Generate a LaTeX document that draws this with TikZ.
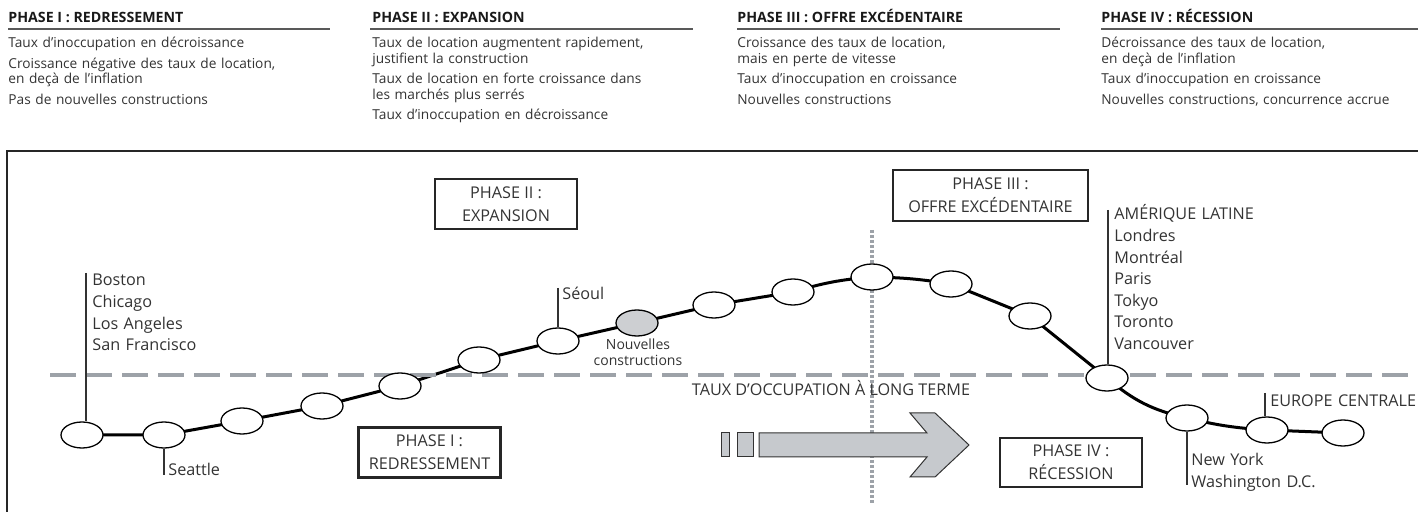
\documentclass[tikz,border=0pt]{standalone}
\usepackage{fontspec}
\setmainfont{Open Sans}
\usetikzlibrary{shapes.geometric,backgrounds}

\definecolor{ink}{HTML}{333333}
\definecolor{dashgray}{HTML}{9DA2A8}
\definecolor{arrowgray}{HTML}{C6C9CD}
\definecolor{newgray}{HTML}{CDCFD2}

\begin{document}
\begin{tikzpicture}[x=0.5pt, y=-0.5pt,
    stop/.style = {draw, ellipse, line width=0.65pt, fill=white, minimum width=21pt, minimum height=13pt, inner sep=0pt},
    newstop/.style = {stop, fill=newgray},
    track/.style = {line width=1.5pt},
    leader/.style = {draw=ink, line width=0.6pt},
    city/.style = {anchor=base west, inner sep=0pt, text width=110pt, align=left, text=ink, font=\fontsize{8.1}{10.8}\selectfont},
    phasebox/.style = {draw=black!85, line width=1.3pt, align=center, text=ink, font=\fontsize{8.1}{11.5}\selectfont, inner sep=0pt},
    colhead/.style = {anchor=base west, inner sep=0pt, font=\bfseries\fontsize{7.1}{8}\selectfont, text=black!90},
    colbody/.style = {anchor=base west, inner sep=0pt, text width=170pt, align=left, font=\fontsize{6.85}{7.75}\selectfont, text=ink},
    colrule/.style = {draw=black!65, line width=0.6pt}]
\useasboundingbox (0,0) rectangle (1418,512);

% header columns
\node[colhead] (h1) at (8,23) {PHASE I : REDRESSEMENT};
\node[colhead] (h2) at (372,23) {PHASE II : EXPANSION};
\node[colhead] (h3) at (737,23) {PHASE III : OFFRE EXCÉDENTAIRE};
\node[colhead] (h4) at (1101,23) {PHASE IV : RÉCESSION};
\draw[colrule] (8,29) -- (330,29);
\draw[colrule] (370,29) -- (693,29);
\draw[colrule] (737,29) -- (1060,29);
\draw[colrule] (1101,29) -- (1418,29);

\node[colbody] (b1) at (8,48) {Taux d’inoccupation en décroissance\\[2.5pt]
  Croissance négative des taux de location,\\ en deçà de l’inflation\\[2.5pt]
  Pas de nouvelles constructions};
\node[colbody] (b2) at (372,48) {Taux de location augmentent rapidement,\\ justifient la construction\\[2.5pt]
  Taux de location en forte croissance dans\\ les marchés plus serrés\\[2.5pt]
  Taux d’inoccupation en décroissance};
\node[colbody] (b3) at (737,48) {Croissance des taux de location,\\ mais en perte de vitesse\\[2.5pt]
  Taux d’inoccupation en croissance\\[2.5pt]
  Nouvelles constructions};
\node[colbody] (b4) at (1101,48) {Décroissance des taux de location,\\ en deçà de l’inflation\\[2.5pt]
  Taux d’inoccupation en croissance\\[2.5pt]
  Nouvelles constructions, concurrence accrue};

% frame
\draw[line width=1pt, black!85] (7,512) -- (7,151) -- (1418,151);

% long-term level and peak
\draw[dashgray, line width=2pt, dash pattern=on 13pt off 5pt] (50,375) -- (1418,375);
\draw[dashgray, line width=1.6pt, dash pattern=on 1.5pt off 1pt] (872,230) -- (872,503);
\node[anchor=base, inner sep=0pt, text=ink, font=\fontsize{8.1}{10}\selectfont] (level) at (831,396) {TAUX D’OCCUPATION À LONG TERME};

% cycle
\node[stop] (p1) at (82,435) {};
\node[stop] (p2) at (164,435) {};
\node[stop] (p3) at (242,421) {};
\node[stop] (p4) at (322,406) {};
\node[stop] (p5) at (400,386) {};
\node[stop] (p6) at (479,360) {};
\node[stop] (p7) at (558,341) {};
\node[newstop] (p8) at (637,323) {};
\node[stop] (p9) at (714,305) {};
\node[stop] (p10) at (793,292) {};
\node[stop] (p11) at (872,277) {};
\node[stop] (p12) at (951,284) {};
\node[stop] (p13) at (1030,316) {};
\node[stop] (p14) at (1107,378) {};
\node[stop] (p15) at (1187,418) {};
\node[stop] (p16) at (1267,430) {};
\node[stop] (p17) at (1343,433) {};

\begin{scope}[on background layer]
\draw[track] (p1.center) -- (p2.center) -- (p3.center) -- (p4.center) -- (p5.center) -- (p6.center)
  -- (p7.center) -- (p8.center) -- (p9.center) -- (p10.center) to[bend left=6] (p11.center)
  to[bend left=4] (p12.center) -- (p13.center) -- (p14.center) to[bend right=14] (p15.center)
  to[bend right=5] (p16.center) -- (p17.center);
\end{scope}

\node[anchor=base, inner sep=0pt, text width=60pt, align=center, text=ink, font=\fontsize{7}{8}\selectfont] (newlbl) at (638,350) {Nouvelles\\ constructions};

% phases
\node[phasebox, minimum width=71pt, minimum height=25pt] (ph1) at (429.5,452.5) {PHASE I :\\ REDRESSEMENT};
\node[phasebox, minimum width=71pt, minimum height=25pt] (ph2) at (506,204) {PHASE II :\\ EXPANSION};
\node[phasebox, minimum width=97.5pt, minimum height=25.5pt] (ph3) at (990.5,195.5) {PHASE III :\\ OFFRE EXCÉDENTAIRE};
\node[phasebox, minimum width=71pt, minimum height=24.5pt] (ph4) at (1071,462.5) {PHASE IV :\\ RÉCESSION};

% direction arrow
\draw[draw=ink, line width=0.5pt, fill=arrowgray] (721,433) rectangle (729,457);
\draw[draw=ink, line width=0.5pt, fill=arrowgray] (737,433) rectangle (753,457);
\draw[draw=ink, line width=0.5pt, fill=arrowgray] (759,433) -- (927,433) -- (910,413) -- (935,413) -- (969,445)
  -- (935,477) -- (910,477) -- (927,457) -- (759,457) -- cycle;

% markets
\coordinate (bostontop) at (86,273);
\draw[leader] (bostontop) -- (bostontop |- p1.north);
\node[city] (boston) at (92,286) {Boston\\ Chicago\\ Los Angeles\\ San Francisco};

\coordinate (seattlebot) at (164,475);
\draw[leader] (p2.south) -- (seattlebot);
\node[city] (seattle) at (168,476) {Seattle};

\coordinate (seoultop) at (558,288);
\draw[leader] (seoultop) -- (p7.north);
\node[city] (seoul) at (562,300) {Séoul};

\coordinate (amltop) at (1108,210);
\draw[leader] (amltop) -- (amltop |- p14.north);
\node[city] (latam) at (1114,220) {AMÉRIQUE LATINE\\ Londres\\ Montréal\\ Paris\\ Tokyo\\ Toronto\\ Vancouver};

\coordinate (nybot) at (1187,485);
\draw[leader] (p15.south) -- (nybot);
\node[city] (newyork) at (1191,466) {New York\\ Washington D.C.};

\coordinate (eurtop) at (1265,393);
\draw[leader] (eurtop) -- (eurtop |- p16.north);
\node[city] (europe) at (1270,407) {EUROPE CENTRALE};

\end{tikzpicture}
\end{document}
